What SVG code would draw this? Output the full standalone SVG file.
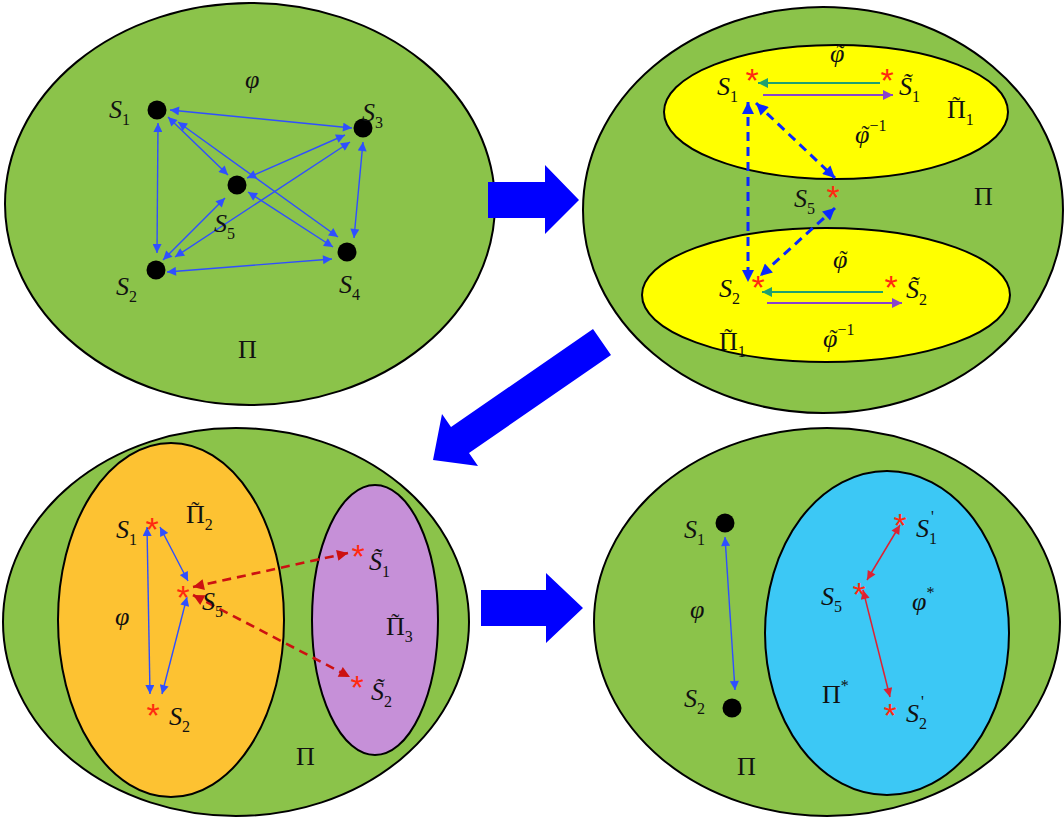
<svg xmlns="http://www.w3.org/2000/svg" width="1064" height="818" viewBox="0 0 1064 818">
<style>
.bg{fill:#8bc34a;stroke:#000;stroke-width:2}
.yl{fill:#ffff00;stroke:#000;stroke-width:2}
.or{fill:#fdc232;stroke:#000;stroke-width:2}
.pu{fill:#c690d8;stroke:#000;stroke-width:2}
.cy{fill:#3cc8f5;stroke:#000;stroke-width:2}
.big{fill:#0000ff}
text{font-family:"Liberation Serif","Times New Roman",serif;font-size:26px;fill:#111}
.i{font-style:italic}
.sub{font-size:16px;font-style:normal}
.tl{font-size:24px;font-style:normal}
.ast{font-family:"Liberation Sans",Arial,sans-serif;font-size:34px;fill:#ff2a10;text-anchor:middle}
.bl{stroke:#2f4fff;stroke-width:1.4;fill:none;marker-start:url(#mb);marker-end:url(#mb)}
.bd{stroke:#0a28ff;stroke-width:3;stroke-dasharray:9 6;fill:none;marker-start:url(#mbd);marker-end:url(#mbd)}
.rd{stroke:#cc1111;stroke-width:2.6;stroke-dasharray:9 6;fill:none;marker-start:url(#mrd);marker-end:url(#mrd)}
.rs{stroke:#dd2233;stroke-width:1.5;fill:none;marker-start:url(#mrs);marker-end:url(#mrs)}
.gr{stroke:#1fa070;stroke-width:2;fill:none;marker-end:url(#mg)}
.pp{stroke:#8844cc;stroke-width:2;fill:none;marker-end:url(#mp)}
</style>
<defs>
<marker id="mb" viewBox="0 0 10 10" refX="10" refY="5" markerUnits="userSpaceOnUse" markerWidth="12" markerHeight="9" orient="auto-start-reverse"><path d="M0,0L10,5L0,10z" fill="#2f4fff"/></marker>
<marker id="mbd" viewBox="0 0 10 10" refX="10" refY="5" markerUnits="userSpaceOnUse" markerWidth="14" markerHeight="12" orient="auto-start-reverse"><path d="M0,0L10,5L0,10z" fill="#0a28ff"/></marker>
<marker id="mrd" viewBox="0 0 10 10" refX="10" refY="5" markerUnits="userSpaceOnUse" markerWidth="14" markerHeight="11" orient="auto-start-reverse"><path d="M0,0L10,5L0,10z" fill="#cc1111"/></marker>
<marker id="mrs" viewBox="0 0 10 10" refX="10" refY="5" markerUnits="userSpaceOnUse" markerWidth="12" markerHeight="9" orient="auto-start-reverse"><path d="M0,0L10,5L0,10z" fill="#dd2233"/></marker>
<marker id="mg" viewBox="0 0 10 10" refX="10" refY="5" markerUnits="userSpaceOnUse" markerWidth="13" markerHeight="10" orient="auto"><path d="M0,0L10,5L0,10z" fill="#1fa070"/></marker>
<marker id="mp" viewBox="0 0 10 10" refX="10" refY="5" markerUnits="userSpaceOnUse" markerWidth="13" markerHeight="10" orient="auto"><path d="M0,0L10,5L0,10z" fill="#8844cc"/></marker>
</defs>
<rect width="1064" height="818" fill="#fff"/>

<!-- Panel containers -->
<g id="panel-tl"><ellipse class="bg" cx="250" cy="204" rx="245" ry="201"/></g>
<g id="panel-tr">
<ellipse class="bg" cx="823" cy="210" rx="240" ry="203"/>
<ellipse class="yl" cx="836" cy="112" rx="172" ry="67"/>
<ellipse class="yl" cx="826" cy="295" rx="184" ry="67"/>
</g>
<g id="panel-bl">
<ellipse class="bg" cx="236" cy="622" rx="233" ry="194"/>
<ellipse class="or" cx="171" cy="620" rx="113" ry="177"/>
<ellipse class="pu" cx="375" cy="620" rx="63" ry="135"/>
</g>
<g id="panel-br">
<ellipse class="bg" cx="827" cy="622" rx="233" ry="194"/>
<ellipse class="cy" cx="887" cy="633" rx="122" ry="162"/>
</g>

<!-- Big transition arrows -->
<g id="big-arrows">
<polygon class="big" points="488,182 545,182 545,165 579,200 545,234 545,218 488,218"/>
<polygon class="big" points="593,329 611,355 469,453 478,466 433,460 442,414 451,427"/>
<polygon class="big" points="481,590 546,590 546,573 583,608 546,643 546,626 481,626"/>
</g>

<!-- Connectors -->
<g id="connectors">
<line class="bl" x1="170" y1="110" x2="352" y2="128"/>
<line class="bl" x1="158" y1="123" x2="157" y2="253"/>
<line class="bl" x1="363" y1="142" x2="354" y2="238"/>
<line class="bl" x1="167" y1="272" x2="332" y2="259"/>
<line class="bl" x1="168" y1="117" x2="228" y2="175"/>
<line class="bl" x1="178" y1="122" x2="338" y2="237"/>
<line class="bl" x1="345" y1="135" x2="247" y2="178"/>
<line class="bl" x1="350" y1="142" x2="175" y2="257"/>
<line class="bl" x1="225" y1="198" x2="163" y2="260"/>
<line class="bl" x1="248" y1="192" x2="333" y2="247"/>

<line class="bd" x1="748" y1="102" x2="748" y2="282"/>
<line class="bd" x1="756" y1="103" x2="835" y2="178"/>
<line class="bd" x1="835" y1="208" x2="760" y2="276"/>
<line class="gr" x1="880" y1="83" x2="758" y2="83"/>
<line class="pp" x1="763" y1="95" x2="893" y2="95"/>
<line class="gr" x1="883" y1="292" x2="762" y2="292"/>
<line class="pp" x1="767" y1="303" x2="902" y2="303"/>

<line class="bl" x1="147" y1="527" x2="150" y2="694"/>
<line class="bl" x1="160" y1="527" x2="188" y2="581"/>
<line class="bl" x1="187" y1="597" x2="162" y2="694"/>
<line class="rd" x1="193" y1="587" x2="348" y2="553"/>
<line class="rd" x1="193" y1="595" x2="350" y2="677"/>

<line class="bl" x1="725" y1="537" x2="735" y2="690"/>
<line class="rs" x1="900" y1="525" x2="867" y2="580"/>
<line class="rs" x1="863" y1="590" x2="890" y2="697"/>
</g>

<!-- Top-left nodes -->
<g id="tl-s1"><circle cx="157" cy="110" r="9.5"/><text x="109" y="118"><tspan class="i">S</tspan><tspan class="sub" dy="7">1</tspan></text></g>
<g id="tl-s2"><circle cx="156" cy="270" r="9.5"/><text x="116" y="295"><tspan class="i">S</tspan><tspan class="sub" dy="7">2</tspan></text></g>
<g id="tl-s3"><circle cx="363" cy="128" r="9.5"/><text x="362" y="121"><tspan class="i">S</tspan><tspan class="sub" dy="7">3</tspan></text></g>
<g id="tl-s4"><circle cx="347" cy="252" r="9.5"/><text x="339" y="293"><tspan class="i">S</tspan><tspan class="sub" dy="7">4</tspan></text></g>
<g id="tl-s5"><circle cx="237" cy="185" r="9.5"/><text x="214" y="232"><tspan class="i">S</tspan><tspan class="sub" dy="7">5</tspan></text></g>
<g id="tl-labels"><text class="i" x="245" y="88">φ</text><text x="238" y="358">Π</text></g>

<!-- Top-right nodes -->
<g id="tr-s1"><text class="ast" x="752" y="92">*</text><text x="717" y="95"><tspan class="i">S</tspan><tspan class="sub" dy="7">1</tspan></text></g>
<g id="tr-st1"><text class="ast" x="887" y="92">*</text><text x="899" y="95"><tspan class="i">S̃</tspan><tspan class="sub" dy="7">1</tspan></text></g>
<g id="tr-s5"><text class="ast" x="833" y="209">*</text><text x="794" y="207"><tspan class="i">S</tspan><tspan class="sub" dy="7">5</tspan></text></g>
<g id="tr-s2"><text class="ast" x="758" y="299">*</text><text x="719" y="297"><tspan class="i">S</tspan><tspan class="sub" dy="7">2</tspan></text></g>
<g id="tr-st2"><text class="ast" x="891" y="299">*</text><text x="906" y="298"><tspan class="i">S̃</tspan><tspan class="sub" dy="7">2</tspan></text></g>
<g id="tr-labels">
<text x="830" y="62"><tspan class="i">φ</tspan><tspan class="tl" dx="-8" dy="-1">˜</tspan></text>
<text x="855" y="143"><tspan class="i">φ</tspan><tspan class="tl" dx="-8" dy="-1">˜</tspan><tspan class="sub" dx="0" dy="-11">−1</tspan></text>
<text x="947" y="118">Π<tspan class="tl" dx="-13.5" dy="-5">˜</tspan><tspan class="sub" dx="5.5" dy="12">1</tspan></text>
<text x="974" y="205">Π</text>
<text x="833" y="268"><tspan class="i">φ</tspan><tspan class="tl" dx="-8" dy="-1">˜</tspan></text>
<text x="719" y="350">Π<tspan class="tl" dx="-13.5" dy="-5">˜</tspan><tspan class="sub" dx="5.5" dy="12">1</tspan></text>
<text x="823" y="347"><tspan class="i">φ</tspan><tspan class="tl" dx="-8" dy="-1">˜</tspan><tspan class="sub" dx="0" dy="-11">−1</tspan></text>
</g>

<!-- Bottom-left nodes -->
<g id="bl-s1"><text class="ast" x="152" y="541">*</text><text x="116" y="538"><tspan class="i">S</tspan><tspan class="sub" dy="7">1</tspan></text></g>
<g id="bl-s5"><text class="ast" x="183" y="609">*</text><text x="202" y="610"><tspan class="i">S</tspan><tspan class="sub" dy="7">5</tspan></text></g>
<g id="bl-s2"><text class="ast" x="153" y="727">*</text><text x="169" y="725"><tspan class="i">S</tspan><tspan class="sub" dy="7">2</tspan></text></g>
<g id="bl-st1"><text class="ast" x="358" y="568">*</text><text x="369" y="570"><tspan class="i">S̃</tspan><tspan class="sub" dy="7">1</tspan></text></g>
<g id="bl-st2"><text class="ast" x="357" y="699">*</text><text x="371" y="700"><tspan class="i">S̃</tspan><tspan class="sub" dy="7">2</tspan></text></g>
<g id="bl-labels">
<text x="186" y="523">Π<tspan class="tl" dx="-13.5" dy="-5">˜</tspan><tspan class="sub" dx="5.5" dy="12">2</tspan></text>
<text class="i" x="115" y="625">φ</text>
<text x="386" y="635">Π<tspan class="tl" dx="-13.5" dy="-5">˜</tspan><tspan class="sub" dx="5.5" dy="12">3</tspan></text>
<text x="296" y="765">Π</text>
</g>

<!-- Bottom-right nodes -->
<g id="br-s1"><circle cx="725" cy="523" r="9.5"/><text x="684" y="538"><tspan class="i">S</tspan><tspan class="sub" dy="7">1</tspan></text></g>
<g id="br-s2"><circle cx="732" cy="708" r="9.5"/><text x="684" y="707"><tspan class="i">S</tspan><tspan class="sub" dy="7">2</tspan></text></g>
<g id="br-s1p"><text class="ast" x="900" y="537">*</text><text x="916" y="537"><tspan class="i">S</tspan><tspan class="sub" dy="7">1</tspan><tspan class="sub" dx="-6" dy="-22">'</tspan></text></g>
<g id="br-s5"><text class="ast" x="859" y="606">*</text><text x="821" y="605"><tspan class="i">S</tspan><tspan class="sub" dy="7">5</tspan></text></g>
<g id="br-s2p"><text class="ast" x="890" y="727">*</text><text x="906" y="722"><tspan class="i">S</tspan><tspan class="sub" dy="7">2</tspan><tspan class="sub" dx="-6" dy="-22">'</tspan></text></g>
<g id="br-labels">
<text class="i" x="690" y="618">φ</text>
<text x="912" y="610"><tspan class="i">φ</tspan><tspan class="sub" dy="-12">*</tspan></text>
<text x="822" y="703">Π<tspan class="sub" dy="-12">*</tspan></text>
<text x="737" y="775">Π</text>
</g>
</svg>
